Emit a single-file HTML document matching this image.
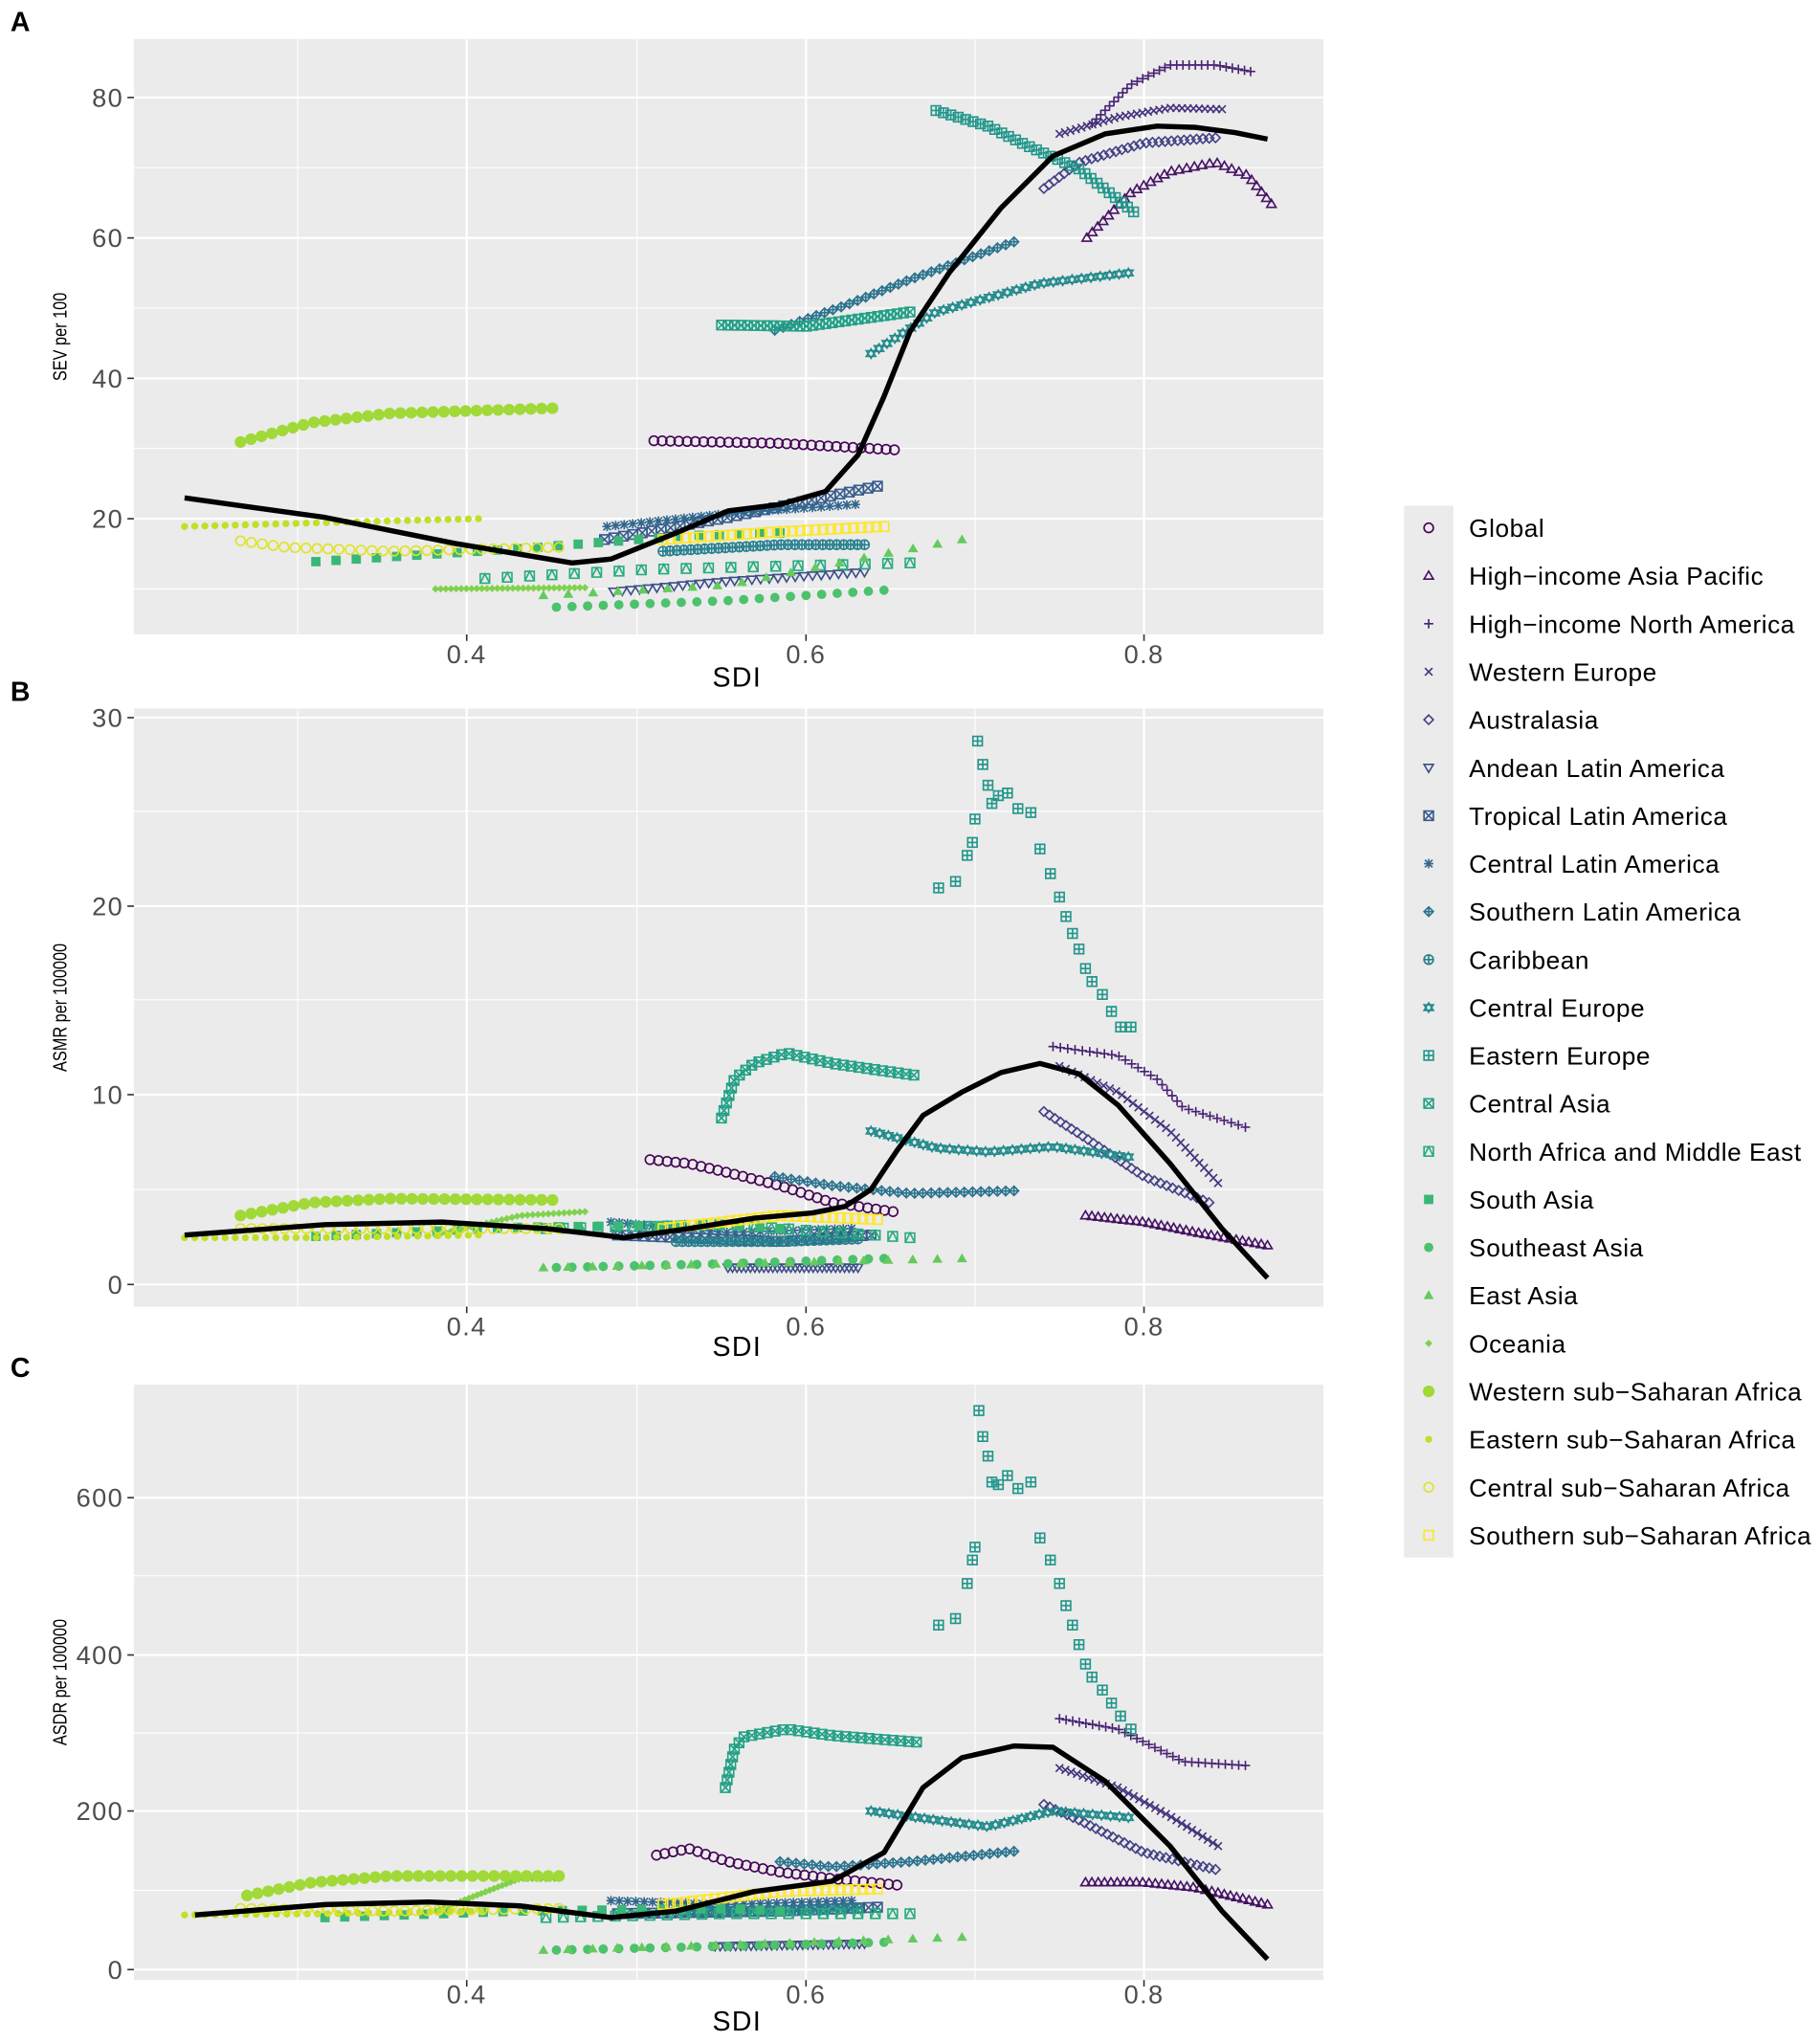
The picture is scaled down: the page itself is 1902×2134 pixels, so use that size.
<!DOCTYPE html>
<html><head><meta charset="utf-8"><style>
html,body{margin:0;padding:0;background:#fff;}
svg{display:block;}
text{font-family:"Liberation Sans",sans-serif;}
</style></head><body>
<svg id="s" width="1902" height="2134" viewBox="0 0 1400 1570.7" preserveAspectRatio="none" xmlns="http://www.w3.org/2000/svg"></svg>
<script>
const S=document.getElementById('s');let h='';
const vir=['#440154','#482475','#414487','#355f8d','#2a788e','#21918c','#22a884','#44bf70','#7ad151','#bddf26','#fde725'];
function hx(c){return [1,3,5].map(i=>parseInt(c.substr(i,2),16));}
function col(i){const t=i/21*10,a=Math.floor(Math.min(t,9.999)),f=t-a;const A=hx(vir[a]),B=hx(vir[a+1]);return 'rgb('+A.map((v,k)=>Math.round(v+(B[k]-v)*f)).join(',')+')';}
const names=['Global','High\u2212income Asia Pacific','High\u2212income North America','Western Europe','Australasia','Andean Latin America','Tropical Latin America','Central Latin America','Southern Latin America','Caribbean','Central Europe','Eastern Europe','Central Asia','North Africa and Middle East','South Asia','Southeast Asia','East Asia','Oceania','Western sub\u2212Saharan Africa','Eastern sub\u2212Saharan Africa','Central sub\u2212Saharan Africa','Southern sub\u2212Saharan Africa'];
function mk(i,x,y){x=+x;y=+y;const c=col(i),r=3.6;const st=`fill="none" stroke="${c}" stroke-width="1.2"`;
switch(i){
case 0:case 20:return `<circle cx="${x}" cy="${y}" r="${r}" ${st}/>`;
case 1:return `<path d="M${x-r} ${y+r*0.7}L${x} ${y-r}L${x+r} ${y+r*0.7}Z" ${st}/>`;
case 2:return `<path d="M${x-r} ${y}H${x+r}M${x} ${y-r}V${y+r}" ${st}/>`;
case 3:return `<path d="M${x-r*.8} ${y-r*.8}L${x+r*.8} ${y+r*.8}M${x-r*.8} ${y+r*.8}L${x+r*.8} ${y-r*.8}" ${st}/>`;
case 4:return `<path d="M${x-r} ${y}L${x} ${y-r}L${x+r} ${y}L${x} ${y+r}Z" ${st}/>`;
case 5:return `<path d="M${x-r} ${y-r*0.7}L${x} ${y+r}L${x+r} ${y-r*0.7}Z" ${st}/>`;
case 6:case 12:return `<path d="M${x-r} ${y-r}h${2*r}v${2*r}h${-2*r}ZM${x-r} ${y-r}L${x+r} ${y+r}M${x-r} ${y+r}L${x+r} ${y-r}" ${st}/>`;
case 7:return `<path d="M${x-r} ${y}H${x+r}M${x-r*.8} ${y-r*.8}L${x+r*.8} ${y+r*.8}M${x-r*.8} ${y+r*.8}L${x+r*.8} ${y-r*.8}M${x} ${y-r}V${y+r}" ${st}/>`;
case 8:return `<path d="M${x-r} ${y}L${x} ${y-r}L${x+r} ${y}L${x} ${y+r}ZM${x-r} ${y}H${x+r}M${x} ${y-r}V${y+r}" ${st}/>`;
case 9:return `<circle cx="${x}" cy="${y}" r="${r}" ${st}/><path d="M${x-r} ${y}H${x+r}M${x} ${y-r}V${y+r}" ${st}/>`;
case 10:return `<path d="M${x-r} ${y+r*.6}L${x} ${y-r}L${x+r} ${y+r*.6}ZM${x-r} ${y-r*.6}L${x} ${y+r}L${x+r} ${y-r*.6}Z" ${st}/>`;
case 11:return `<path d="M${x-r} ${y-r}h${2*r}v${2*r}h${-2*r}ZM${x-r} ${y}H${x+r}M${x} ${y-r}V${y+r}" ${st}/>`;
case 13:return `<path d="M${x-r} ${y-r}h${2*r}v${2*r}h${-2*r}ZM${x-r} ${y+r}L${x} ${y-r}L${x+r} ${y+r}" ${st}/>`;
case 14:return `<rect x="${x-r}" y="${y-r}" width="${2*r}" height="${2*r}" fill="${c}"/>`;
case 15:return `<circle cx="${x}" cy="${y}" r="${r}" fill="${c}"/>`;
case 16:return `<path d="M${x-r*1.1} ${y+r*0.8}L${x} ${y-r*1.1}L${x+r*1.1} ${y+r*0.8}Z" fill="${c}"/>`;
case 17:return `<path d="M${x-r*.8} ${y}L${x} ${y-r*.8}L${x+r*.8} ${y}L${x} ${y+r*.8}Z" fill="${c}"/>`;
case 18:return `<circle cx="${x}" cy="${y}" r="${r*1.25}" fill="${c}"/>`;
case 19:return `<circle cx="${x}" cy="${y}" r="${r*0.75}" fill="${c}"/>`;
case 21:return `<rect x="${x-r}" y="${y-r}" width="${2*r}" height="${2*r}" ${st}/>`;
}}
function series(i,pts,n){n=n||30;let L=[0];for(let k=1;k<pts.length;k++)L.push(L[k-1]+Math.hypot(pts[k][0]-pts[k-1][0],pts[k][1]-pts[k-1][1]));const T=L[L.length-1];
for(let j=0;j<n;j++){const d=T*j/(n-1);let k=1;while(k<pts.length-1&&L[k]<d)k++;const f=(d-L[k-1])/((L[k]-L[k-1])||1);h+=mk(i,pts[k-1][0]+(pts[k][0]-pts[k-1][0])*f,pts[k-1][1]+(pts[k][1]-pts[k-1][1])*f);}}
function line(p){h+=`<path d="M${p.map(q=>q.join(' ')).join('L')}" fill="none" stroke="#000" stroke-width="4" stroke-linejoin="round"/>`;}
function panel(top,bot,yt,minor,lab,title,xlabY,sdiY){
h+=`<rect x="103" y="${top}" width="915" height="${bot-top}" fill="#ebebeb"/>`;
minor.forEach(y=>h+=`<line x1="103" x2="1018" y1="${y}" y2="${y}" stroke="#fff" stroke-width="0.8"/>`);
[229,490,750].forEach(x=>h+=`<line x1="${x}" x2="${x}" y1="${top}" y2="${bot}" stroke="#fff" stroke-width="0.8"/>`);
yt.forEach(([v,y])=>{h+=`<line x1="103" x2="1018" y1="${y}" y2="${y}" stroke="#fff" stroke-width="1.6"/><line x1="98" x2="103" y1="${y}" y2="${y}" stroke="#333" stroke-width="1.2"/><text x="95" y="${y+7}" font-size="20" text-anchor="end" fill="#4d4d4d" letter-spacing="1">${v}</text>`;});
[[359,'0.4'],[620,'0.6'],[880,'0.8']].forEach(([x,t])=>{h+=`<line x1="${x}" x2="${x}" y1="${top}" y2="${bot}" stroke="#fff" stroke-width="1.6"/><line x1="${x}" x2="${x}" y1="${bot}" y2="${bot+5}" stroke="#333" stroke-width="1.2"/><text x="${x}" y="${xlabY}" font-size="20" text-anchor="middle" fill="#4d4d4d" letter-spacing="1">${t}</text>`;});
h+=`<text x="567" y="${sdiY}" font-size="21" text-anchor="middle" fill="#000" letter-spacing="1">SDI</text>`;
h+=`<text x="8" y="${top-6}" font-size="21" font-weight="bold">${lab}</text>`;
const cy=(top+bot)/2;h+=`<text transform="translate(51 ${cy}) rotate(-90) scale(0.8 1)" font-size="15" text-anchor="middle">${title}</text>`;
}
panel(30,488,[[80,75],[60,183],[40,291],[20,399]],[129,237,345,453],'A','SEV per 100',510,528);
panel(545,1005,[[30,552],[20,697],[10,842],[0,988]],[624,769,915],'B','ASMR per 100000',1027,1043);
panel(1065,1523,[[600,1152],[400,1273],[200,1393],[0,1515]],[1212,1333,1454],'C','ASDR per 100000',1541,1562);
// Panel A
series(0,[[503,339],[600,341],[688,346]]);
series(1,[[836,183],[870,148],[900,132],[935,125],[960,135],[978,157]]);
series(2,[[840,95],[870,65],[900,50],[935,50],[962,55]]);
series(3,[[815,103],[860,90],[900,83],[940,84]]);
series(4,[[803,145],[830,125],[880,110],[935,106]]);
series(5,[[472,455],[560,447],[665,440]]);
series(6,[[465,415],[560,398],[675,374]]);
series(7,[[467,405],[560,395],[658,388]]);
series(8,[[596,254],[650,235],[700,215],[780,186]]);
series(9,[[510,424],[600,419],[665,419]]);
series(10,[[670,272],[720,240],[800,218],[868,210]]);
series(11,[[720,85],[760,97],[790,112],[830,130],[872,163]]);
series(12,[[555,250],[620,251],[700,240]]);
series(13,[[373,445],[500,438],[700,433]],20);
series(14,[[243,432],[400,422],[530,412],[600,410]],24);
series(15,[[428,467],[560,462],[680,454]],22);
series(16,[[418,458],[560,450],[680,426],[740,415]],18);
series(17,[[335,453],[450,452]]);
series(18,[[185,340],[240,325],[300,318],[425,314]]);
series(19,[[142,405],[250,402],[368,399]]);
series(20,[[185,416],[220,421],[300,424],[430,421]]);
series(21,[[510,415],[600,409],[680,405]]);
line([[142,383],[250,398],[350,418],[440,433],[470,430],[520,410],[560,393],[600,388],[635,378],[660,350],[680,305],[700,255],[730,210],[770,160],[810,120],[850,103],[890,97],[920,98],[950,102],[975,107]]);
// Panel B
series(0,[[500,892],[530,895],[560,902],[600,912],[640,925],[687,932]]);
series(1,[[835,935],[880,940],[920,948],[975,958]]);
series(2,[[810,805],[860,812],[890,830],[910,852],[958,867]]);
series(3,[[815,820],[860,840],[900,870],[937,910]]);
series(4,[[803,855],[830,872],[880,905],[930,925]]);
series(5,[[560,975],[660,975]]);
series(6,[[475,950],[600,955],[670,950]]);
series(7,[[470,940],[560,948],[655,945]]);
series(8,[[596,905],[640,912],[700,918],[780,916]]);
series(9,[[520,955],[600,955],[660,953]]);
series(10,[[670,870],[720,883],[760,886],[810,882],[868,890]]);
[[722,683],[735,678],[744,658],[748,648],[750,630],[752,570],[756,588],[760,604],[763,618],[768,612],[775,610],[783,622],[793,625],[800,653],[808,672],[815,690],[820,705],[825,718],[830,730],[835,745],[840,755],[848,765],[855,778],[862,790],[870,790]].forEach(p=>h+=mk(11,p[0],p[1]));
series(12,[[555,860],[565,830],[580,818],[605,810],[640,818],[703,827]]);
series(13,[[420,945],[560,942],[700,952]],22);
series(14,[[243,951],[400,944],[560,942],[600,945]],24);
series(15,[[428,975],[560,972],[680,968]],22);
series(16,[[418,975],[560,972],[740,968]],18);
series(17,[[335,950],[400,935],[450,932]]);
series(18,[[185,935],[240,925],[300,922],[425,923]]);
series(19,[[142,952],[250,952],[368,950]]);
series(20,[[185,945],[300,945],[430,945]]);
series(21,[[510,945],[600,935],[675,938]]);
line([[142,950],[250,942],[340,940],[420,945],[480,952],[530,945],[580,937],[625,933],[650,928],[670,915],[690,885],[710,858],[740,840],[770,825],[800,818],[830,826],[860,850],[900,895],[940,945],[975,983]]);
// Panel C
series(0,[[505,1427],[530,1422],[560,1432],[600,1440],[640,1445],[690,1450]]);
series(1,[[835,1448],[880,1448],[920,1452],[975,1465]]);
series(2,[[815,1322],[860,1330],[890,1345],[910,1355],[958,1358]]);
series(3,[[815,1360],[860,1375],[900,1397],[937,1420]]);
series(4,[[803,1388],[830,1400],[880,1425],[935,1438]]);
series(5,[[550,1497],[665,1495]]);
series(6,[[475,1472],[600,1470],[675,1467]]);
series(7,[[470,1462],[560,1465],[655,1462]]);
series(8,[[600,1432],[640,1436],[700,1432],[780,1424]]);
series(9,[[520,1470],[600,1470],[660,1468]]);
series(10,[[670,1393],[720,1400],[760,1405],[810,1393],[868,1398]]);
[[722,1250],[735,1245],[744,1218],[748,1200],[750,1190],[753,1085],[756,1105],[760,1120],[763,1140],[768,1142],[775,1135],[783,1145],[793,1140],[800,1183],[808,1200],[815,1218],[820,1235],[825,1250],[830,1265],[835,1280],[840,1290],[848,1300],[855,1310],[862,1320],[870,1330]].forEach(p=>h+=mk(11,p[0],p[1]));
series(12,[[558,1375],[565,1345],[572,1336],[605,1330],[640,1335],[705,1340]]);
series(13,[[420,1475],[560,1472],[700,1472]],22);
series(14,[[250,1475],[400,1470],[560,1468],[600,1470]],24);
series(15,[[428,1500],[560,1497],[680,1494]],22);
series(16,[[418,1500],[560,1496],[740,1490]],18);
series(17,[[335,1470],[400,1445],[430,1445]]);
series(18,[[190,1458],[240,1448],[300,1443],[430,1443]]);
series(19,[[142,1473],[250,1472],[370,1470]]);
series(20,[[185,1468],[300,1470],[430,1468]]);
series(21,[[510,1465],[600,1455],[675,1453]]);
line([[150,1473],[250,1465],[330,1463],[400,1466],[470,1475],[520,1470],[580,1455],[640,1447],[680,1425],[710,1375],[740,1352],[780,1343],[810,1344],[850,1370],[900,1420],[940,1470],[975,1507]]);
// Legend
h+=`<rect x="1080" y="389" width="38" height="809" fill="#ebebeb"/>`;
names.forEach((n,i)=>{const y=406+i*36.9;h+=mk(i,1099,y);h+=`<text x="1130" y="${y+7}" font-size="19.3" letter-spacing="0.4">${n}</text>`;});
S.innerHTML=h;
</script>
</body></html>
